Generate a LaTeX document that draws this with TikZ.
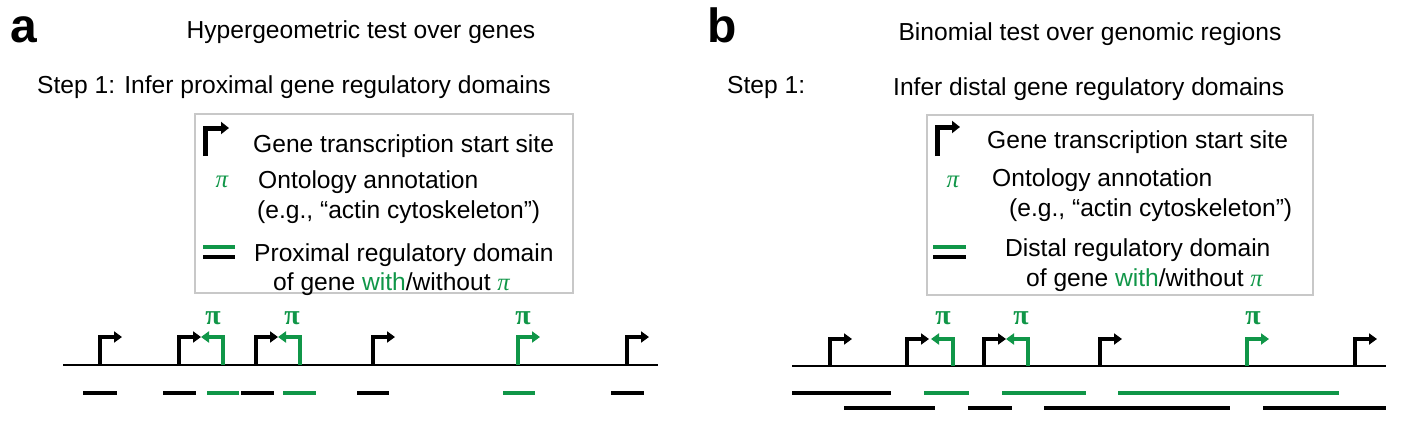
\documentclass[tikz,border=0pt]{standalone}
\usepackage{fontspec}
\setmainfont{Liberation Sans}
\newfontfamily\piserif{Liberation Serif}
\newfontfamily\panelfont[FakeBold=1.5]{Liberation Sans}
\usetikzlibrary{arrows.meta}
\definecolor{grn}{RGB}{16,150,72}
\definecolor{boxgray}{RGB}{200,200,200}
\begin{document}
\begin{tikzpicture}[x=1pt,y=-1pt,
  txt/.style={inner sep=0pt, anchor=base west, font=\fontsize{24.6}{28}\selectfont},
  ctxt/.style={inner sep=0pt, anchor=base, font=\fontsize{24.6}{28}\selectfont},
  panel/.style={inner sep=0pt, anchor=base west, font=\fontsize{48}{48}\selectfont\bfseries},
  legbox/.style={draw=boxgray, line width=2pt},
  tss/.style={line width=4pt, line join=miter, -{Triangle[length=8pt,width=11pt]}},
  legtss/.style={line width=5pt, line join=miter, -{Triangle[length=8pt,width=12pt]}},
  gline/.style={line width=2.4pt},
  dom/.style={line width=4.2pt},
  tpi/.style={inner sep=0pt, text=grn, font=\piserif\bfseries\fontsize{28}{28}\selectfont},
  lpi/.style={inner sep=0pt, text=grn, font=\piserif\itshape\fontsize{25}{25}\selectfont}]
\useasboundingbox (0,0) rectangle (1403,423);
%% ---------------- panel a ----------------
\node[panel] (la) at (10,42) {a};
\node[ctxt] (ta) at (361,38) {Hypergeometric test over genes};
\node[txt] (sa) at (37,93) {Step 1: Infer proximal gene regulatory domains};
\draw[legbox] (195,114) rectangle (573,293);
\draw[legtss, black] (205,156) |- (229,128);
\node[txt] (ga1) at (253,152) {Gene transcription start site};
\node[lpi] (pa) at (222,182) {π};
\node[txt] (ga2) at (258,188) {Ontology annotation};
\node[txt] (ga3) at (257,218) {(e.g., “actin cytoskeleton”)};
\draw[dom, grn] (203,247) -- (235,247);
\draw[dom, black] (203,257) -- (235,257);
\node[txt] (ga4) at (254,261) {Proximal regulatory domain};
\node[txt] (ga5) at (273,290) {of gene \textcolor{grn}{with}/without \textcolor{grn}{\piserif\itshape π}};
% track a
\coordinate (a0) at (63,365);
\coordinate (a1) at (658,365);
\draw[gline] (a0) -- (a1);
\foreach \x in {100,179,256,373,627} \draw[tss, black] (\x,365) |- (\x+22,337);
\foreach \x in {223,300} \draw[tss, grn] (\x,365) |- (\x-22,337);
\draw[tss, grn] (518,365) |- (540,337);
\node[tpi] (pia1) at (213,318) {π};
\node[tpi] (pia2) at (292,318) {π};
\node[tpi] (pia3) at (523,318) {π};
\foreach \a/\b in {83/117,163/196,241/274,357/389,611/644} \draw[dom, black] (\a,393) -- (\b,393);
\foreach \a/\b in {207/239,283/316,503/535} \draw[dom, grn] (\a,393) -- (\b,393);
%% ---------------- panel b ----------------
\node[panel] (lb) at (707,42) {b};
\node[ctxt] (tb) at (1090,40) {Binomial test over genomic regions};
\node[txt] (sb) at (727,93) {Step 1:};
\node[txt] (ib) at (893,95) {Infer distal gene regulatory domains};
\draw[legbox] (927,115) rectangle (1313,295);
\draw[legtss, black] (937,156) |- (960,127);
\node[txt] (gb1) at (987,148) {Gene transcription start site};
\node[lpi] (pb) at (953,182) {π};
\node[txt] (gb2) at (992,186) {Ontology annotation};
\node[txt] (gb3) at (1009,216) {(e.g., “actin cytoskeleton”)};
\draw[dom, grn] (933,247) -- (966,247);
\draw[dom, black] (933,257) -- (966,257);
\node[txt] (gb4) at (1005,256) {Distal regulatory domain};
\node[txt] (gb5) at (1026,286) {of gene \textcolor{grn}{with}/without \textcolor{grn}{\piserif\itshape π}};
% track b
\coordinate (b0) at (792,366);
\coordinate (b1) at (1386,366);
\draw[gline] (b0) -- (b1);
\foreach \x in {830,907,984,1100,1355} \draw[tss, black] (\x,366) |- (\x+22,339);
\foreach \x in {953,1028} \draw[tss, grn] (\x,366) |- (\x-22,339);
\draw[tss, grn] (1247,366) |- (1269,339);
\node[tpi] (pib1) at (943,318) {π};
\node[tpi] (pib2) at (1021,318) {π};
\node[tpi] (pib3) at (1253,318) {π};
\draw[dom, black] (792,393) -- (891,393);
\foreach \a/\b in {924/969,1002/1086,1118/1339} \draw[dom, grn] (\a,393) -- (\b,393);
\foreach \a/\b in {844/935,968/1012,1044/1230,1263/1386} \draw[dom, black] (\a,408) -- (\b,408);
\end{tikzpicture}
\end{document}
